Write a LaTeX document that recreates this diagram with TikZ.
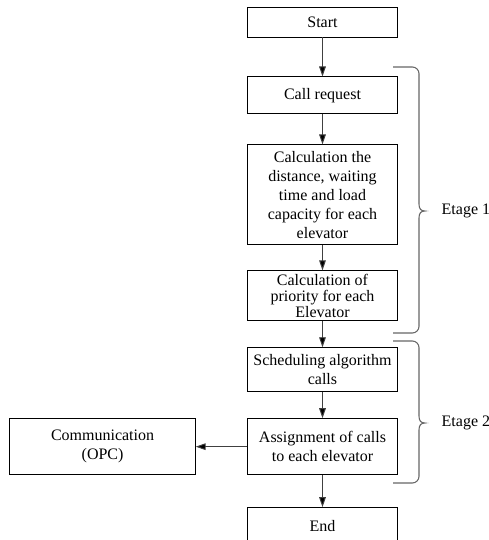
\documentclass[tikz,border=0pt]{standalone}
\usepackage{fontspec}
\setmainfont{Liberation Serif}
\usepackage{tikz}
\usetikzlibrary{arrows.meta,positioning}

\tikzset{
  stepbox/.style={draw, line width=0.7pt, minimum width=113pt, align=center,
                  inner sep=1pt, font=\fontsize{12}{14.2}\selectfont},
  flow/.style={line width=0.7pt, draw=black!75, -{Triangle[length=7.5pt,width=5pt,fill=black]}},
  brace/.style={line width=0.8pt, draw=black!60},
  etage/.style={anchor=west, font=\fontsize{12}{14}\selectfont}
}

\begin{document}
\begin{tikzpicture}[x=0.75pt, y=-0.75pt]
                \useasboundingbox (0,0) rectangle (489,540);

                \node [stepbox, minimum height=22.5pt] (start) at (322.5,22) {Start};
                \node [stepbox, minimum height=27.75pt,
                        below = 29.25pt of start]
                                        (request) {Call request};
                \node [stepbox, minimum height=75pt,
                        below = 22.5pt of request]
                                        (calcul) {Calculation the\\ distance, waiting\\ time and load\\ capacity for each\\ elevator};
                \node [stepbox, minimum height=37.5pt, inner sep=0pt,
                        font=\fontsize{12}{12.2}\selectfont,
                        below = 18.75pt of calcul]
                                        (priority) {Calculation of\\ priority for each\\ Elevator};
                \node [stepbox, minimum height=33pt,
                        below = 19.5pt of priority]
                                        (sched) {Scheduling algorithm\\ calls};
                \node [stepbox, minimum height=42pt,
                        below = 19.5pt of sched]
                                        (assign) {Assignment of calls\\ to each elevator};
                \node [stepbox, minimum height=27.75pt,
                        below = 24pt of assign]
                                        (end) {End};
                \node [stepbox, minimum width=139pt, minimum height=42pt,
                        left = 38.25pt of assign]
                                        (opc) {Communication\\ (OPC)};

                \draw[flow] (start) -- (request);
                \draw[flow] (request) -- (calcul);
                \draw[flow] (calcul) -- (priority);
                \draw[flow] (priority) -- (sched);
                \draw[flow] (sched) -- (assign);
                \draw[flow] (assign) -- (end);
                \draw[flow] (assign) -- (opc);

                % first stage
                \draw[brace] (393,67) [rounded corners=5pt] -| (419,150) [sharp corners]
                        -- (419,204) .. controls (419,209) and (421,211) .. (425,211)
                        .. controls (421,211) and (419,213) .. (419,218)
                        [rounded corners=5pt] |- (393,333);
                \node [etage] (etage1) at (437,211) {Etage 1};

                % second stage
                \draw[brace] (393,341) [rounded corners=5pt] -| (419,380) [sharp corners]
                        -- (419,416) .. controls (419,421) and (421,423) .. (425,423)
                        .. controls (421,423) and (419,425) .. (419,430)
                        [rounded corners=5pt] |- (393,483);
                \node [etage] (etage2) at (437,423) {Etage 2};
\end{tikzpicture}
\end{document}
